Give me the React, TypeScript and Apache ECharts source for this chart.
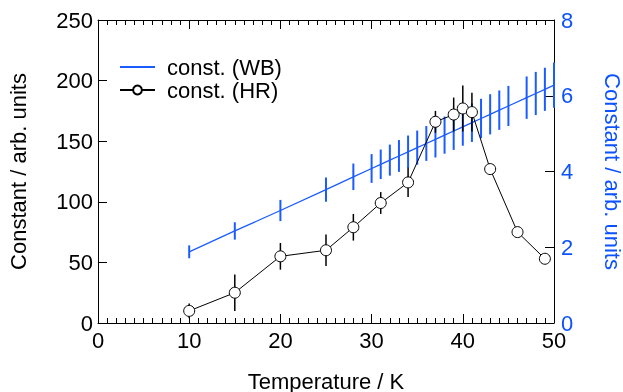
import React, { useEffect, useRef } from "react";
import * as echarts from "echarts";

const FONT = "'Liberation Sans', Arial, Helvetica, sans-serif";
const BLUE = "#1a5cff";
const BLUE_TEXT = "#0d52ff";

// const. (WB) — right axis
const wbT = [10, 15, 20, 25, 28, 30, 31, 32, 33, 34, 35, 36, 37, 38, 39, 40, 41, 42, 43, 44, 45, 47, 48, 49, 50];
const wbVal = [1.88, 2.43, 2.97, 3.52, 3.86, 4.08, 4.19, 4.3, 4.41, 4.52, 4.63, 4.74, 4.85, 4.96, 5.07, 5.18, 5.29, 5.4, 5.51, 5.62, 5.73, 5.95, 6.06, 6.17, 6.28];
const wbErr = [0.17, 0.23, 0.28, 0.32, 0.35, 0.38, 0.39, 0.41, 0.42, 0.43, 0.45, 0.46, 0.48, 0.49, 0.5, 0.5, 0.51, 0.52, 0.53, 0.52, 0.53, 0.56, 0.57, 0.57, 0.6];

// const. (HR) — left axis
const hrT = [10, 15, 20, 25, 28, 31, 34, 37, 39, 40, 41, 43, 46, 49];
const hrVal = [10, 25, 55, 60, 79, 99, 116, 166, 172, 177, 174, 127, 75, 53];
const hrErr = [6, 15, 11, 13, 11, 9, 12, 9, 14, 19, 16, 3, 4, 2];

const xTicks = { min: 0, max: 50, interval: 10 };
const yLeft = { min: 0, max: 250, interval: 50 };
const yRight = { min: 0, max: 8, interval: 2 };

function errRender(color: string, width: number) {
  return (params: any, api: any) => {
    const x = api.value(0);
    const p1 = api.coord([x, api.value(1)]);
    const p2 = api.coord([x, api.value(2)]);
    return {
      type: "line",
      shape: { x1: p1[0], y1: p1[1], x2: p2[0], y2: p2[1] },
      style: { stroke: color, lineWidth: width },
    };
  };
}

export default function App() {
  const ref = useRef<HTMLDivElement>(null);
  useEffect(() => {
    if (!ref.current) return;
    const chart = echarts.init(ref.current, undefined, { renderer: "svg" });
    const axisLine = { show: true, onZero: false, lineStyle: { color: "#000", width: 1 } };
    const FS = 22;
    const label = { color: "#000", fontSize: FS, fontFamily: FONT };
    const tick = { show: true, inside: true, length: 9, lineStyle: { color: "#000" } };
    const minor = { show: true, splitNumber: 10, length: 5, lineStyle: { color: "#000" } };
    chart.setOption({
      animation: false,
      textStyle: { fontFamily: FONT },
      grid: {
        left: 98,
        right: 69,
        top: 20,
        bottom: 69,
        containLabel: false,
        outerBoundsMode: "none",
      },
      legend: {
        orient: "vertical",
        left: 119,
        top: 56,
        padding: 0,
        itemGap: 1,
        itemWidth: 35,
        itemHeight: 11,
        textStyle: {
          fontSize: FS,
          lineHeight: 20,
          fontFamily: FONT,
          color: "#000",
          padding: [0, 0, 0, 7],
        },
        data: [
          { name: "const. (WB)", itemStyle: { opacity: 0 } },
          { name: "const. (HR)" },
        ],
      },
      xAxis: [
        {
          type: "value",
          position: "bottom",
          ...xTicks,
          axisLine,
          splitLine: { show: false },
          axisTick: tick,
          minorTick: minor,
          axisLabel: { ...label, margin: 6 },
          name: "Temperature / K",
          nameLocation: "middle",
          nameGap: 47,
          nameTextStyle: { fontSize: FS, fontFamily: FONT, color: "#000" },
        },
        {
          type: "value",
          position: "top",
          ...xTicks,
          axisLine,
          splitLine: { show: false },
          axisTick: tick,
          minorTick: minor,
          axisLabel: { show: false },
        },
      ],
      yAxis: [
        {
          type: "value",
          position: "left",
          ...yLeft,
          axisLine,
          splitLine: { show: false },
          axisTick: tick,
          axisLabel: { ...label, margin: 5 },
          name: "Constant / arb. units",
          nameLocation: "middle",
          nameGap: 69,
          nameTextStyle: { fontSize: FS, fontFamily: FONT, color: "#000" },
        },
        {
          type: "value",
          position: "right",
          ...yRight,
          axisLine,
          splitLine: { show: false },
          axisTick: tick,
          axisLabel: { ...label, color: BLUE_TEXT, margin: 7 },
          name: "Constant / arb. units",
          nameLocation: "middle",
          nameRotate: -90,
          nameGap: 47,
          nameTextStyle: { fontSize: FS, fontFamily: FONT, color: BLUE_TEXT },
        },
      ],
      series: [
        {
          name: "wbErr",
          type: "custom",
          xAxisIndex: 0,
          yAxisIndex: 1,
          renderItem: errRender(BLUE, 2),
          data: wbT.map((t, i) => [t, wbVal[i] - wbErr[i], wbVal[i] + wbErr[i]]),
          encode: { x: 0, y: [1, 2] },
          z: 2,
        },
        {
          name: "const. (WB)",
          type: "line",
          xAxisIndex: 0,
          yAxisIndex: 1,
          data: wbT.map((t, i) => [t, wbVal[i]]),
          symbol: "none",
          color: BLUE,
          lineStyle: { color: BLUE, width: 1.3 },
          z: 3,
        },
        {
          name: "hrErr",
          type: "custom",
          xAxisIndex: 0,
          yAxisIndex: 0,
          renderItem: errRender("#000", 1.5),
          data: hrT.map((t, i) => [t, hrVal[i] - hrErr[i], hrVal[i] + hrErr[i]]),
          encode: { x: 0, y: [1, 2] },
          z: 4,
        },
        {
          name: "const. (HR)",
          type: "line",
          xAxisIndex: 0,
          yAxisIndex: 0,
          data: hrT.map((t, i) => [t, hrVal[i]]),
          symbol: "circle",
          symbolSize: 11,
          color: "#000",
          lineStyle: { color: "#000", width: 1 },
          itemStyle: { color: "#fff", borderColor: "#000", borderWidth: 1 },
          z: 5,
        },
      ],
    });
    return () => chart.dispose();
  }, []);
  return (
    <div
      ref={ref}
      style={{ position: "fixed", left: 0, top: 0, width: 623, height: 392 }}
    />
  );
}
